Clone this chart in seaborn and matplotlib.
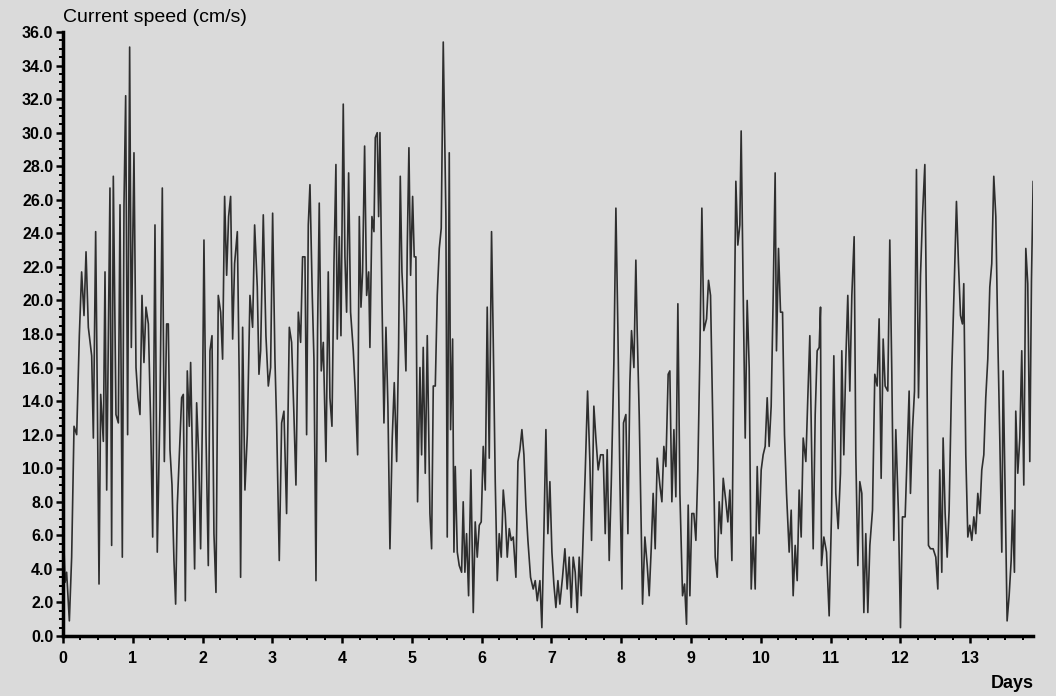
import numpy as np
import pandas as pd
import matplotlib
matplotlib.use("Agg")
import matplotlib.pyplot as plt
from matplotlib.ticker import MultipleLocator, FormatStrFormatter
import seaborn as sns

days = [
    0.000, 0.030, 0.052, 0.091, 0.124, 0.158, 0.196, 0.234, 0.267, 0.301, 0.330, 0.363, 0.411, 0.435, 0.468, 0.492,
    0.516, 0.540, 0.578, 0.602, 0.626, 0.673, 0.697, 0.721, 0.759, 0.793, 0.817, 0.850, 0.874, 0.898, 0.926, 0.955,
    0.979, 1.017, 1.046, 1.074, 1.103, 1.132, 1.160, 1.189, 1.223, 1.256, 1.285, 1.318, 1.351, 1.390, 1.423, 1.452,
    1.485, 1.509, 1.533, 1.562, 1.590, 1.614, 1.638, 1.667, 1.700, 1.724, 1.753, 1.781, 1.810, 1.829, 1.858, 1.886,
    1.915, 1.944, 1.972, 1.996, 2.020, 2.049, 2.082, 2.106, 2.135, 2.163, 2.192, 2.225, 2.259, 2.287, 2.316, 2.345,
    2.373, 2.402, 2.431, 2.459, 2.498, 2.526, 2.545, 2.574, 2.607, 2.641, 2.679, 2.717, 2.746, 2.784, 2.808,
    2.832, 2.870, 2.908, 2.942, 2.975, 3.004, 3.037, 3.061, 3.099, 3.133, 3.166, 3.204, 3.243, 3.276, 3.309, 3.338,
    3.372, 3.405, 3.433, 3.467, 3.491, 3.515, 3.539, 3.572, 3.596, 3.625, 3.648, 3.672, 3.701, 3.730, 3.768, 3.801,
    3.825, 3.854, 3.883, 3.911, 3.930, 3.959, 3.983, 4.016, 4.040, 4.064, 4.093, 4.121, 4.160, 4.188, 4.222, 4.246,
    4.270, 4.293, 4.322, 4.351, 4.380, 4.398, 4.427, 4.456, 4.475, 4.503, 4.523, 4.542, 4.570, 4.599, 4.628, 4.656,
    4.685, 4.718, 4.747, 4.781, 4.809, 4.833, 4.857, 4.885, 4.914, 4.933, 4.957, 4.981, 5.010, 5.033, 5.057, 5.081,
    5.115, 5.139, 5.162, 5.191, 5.220, 5.258, 5.282, 5.306, 5.335, 5.363, 5.392, 5.420, 5.449,
    5.487, 5.506, 5.535, 5.554, 5.583, 5.602, 5.621, 5.650, 5.678, 5.712, 5.735, 5.759, 5.783, 5.812, 5.845, 5.879,
    5.907, 5.936, 5.965, 5.993, 6.022, 6.051, 6.079, 6.108, 6.141, 6.165, 6.194, 6.223, 6.251, 6.280, 6.309, 6.337,
    6.366, 6.395, 6.423, 6.452, 6.490, 6.519, 6.547, 6.576, 6.605, 6.633, 6.662, 6.700, 6.738, 6.767, 6.796, 6.834,
    6.862, 6.891, 6.920, 6.948, 6.977, 7.006, 7.034, 7.063, 7.092, 7.120, 7.158, 7.192, 7.225, 7.254, 7.283, 7.311,
    7.340, 7.369, 7.397, 7.426, 7.455, 7.483, 7.517, 7.550, 7.574, 7.607, 7.636, 7.669, 7.703, 7.741, 7.770, 7.798,
    7.827, 7.856, 7.894, 7.923, 7.951, 7.980, 8.009, 8.032, 8.066, 8.095, 8.123, 8.147, 8.181, 8.209,
    8.228, 8.257, 8.305, 8.338, 8.372, 8.400, 8.429, 8.457, 8.486, 8.515, 8.553, 8.582, 8.610, 8.639, 8.672, 8.696,
    8.725, 8.754, 8.782, 8.811, 8.840, 8.878, 8.907, 8.935, 8.959, 8.983, 9.011, 9.040, 9.069, 9.097, 9.126, 9.155,
    9.183, 9.222, 9.250, 9.279, 9.317, 9.346, 9.375, 9.403, 9.432, 9.461, 9.499, 9.527, 9.556, 9.585, 9.613, 9.642,
    9.670, 9.699, 9.718, 9.747, 9.776, 9.804, 9.833, 9.862, 9.890, 9.919, 9.948, 9.976, 10.005, 10.033, 10.062, 10.091,
    10.119, 10.148, 10.177, 10.205, 10.224, 10.253, 10.282, 10.311, 10.339, 10.368, 10.406, 10.435, 10.463, 10.492,
    10.521, 10.549, 10.578, 10.607, 10.645, 10.673, 10.702, 10.731, 10.750, 10.779, 10.807, 10.836, 10.855,
    10.869, 10.903, 10.941, 10.979, 11.013, 11.046, 11.074, 11.108, 11.141, 11.160, 11.189, 11.218, 11.246, 11.275,
    11.304, 11.337, 11.361, 11.390, 11.418, 11.447, 11.476, 11.504, 11.533, 11.562, 11.600, 11.633, 11.667, 11.695,
    11.724, 11.753, 11.781, 11.819, 11.848, 11.877, 11.905, 11.934, 11.972, 12.001, 12.029, 12.068, 12.096, 12.125,
    12.144, 12.173, 12.202, 12.230, 12.259, 12.288, 12.316, 12.350, 12.374, 12.402, 12.431, 12.469, 12.507, 12.536,
    12.564, 12.593, 12.612, 12.641, 12.670, 12.698, 12.736, 12.775, 12.803, 12.832, 12.861, 12.889, 12.908, 12.937,
    12.966, 12.994, 13.023, 13.052, 13.080, 13.109, 13.138, 13.166, 13.195, 13.223, 13.252, 13.281, 13.309, 13.338,
    13.367, 13.395, 13.424, 13.453, 13.472, 13.501, 13.529, 13.558, 13.587, 13.606, 13.634, 13.653, 13.682, 13.711,
    13.739, 13.768, 13.797, 13.825, 13.854, 13.878, 13.902,
]

speed = [
    7.1, 3.2, 3.8, 0.9, 4.7, 12.5, 12.0, 17.9, 21.7, 19.1, 22.9, 18.4, 16.7, 11.8, 24.1, 14.2,
    3.1, 14.4, 11.6, 21.7, 8.7, 26.7, 5.4, 27.4, 13.2, 12.7, 25.7, 4.7, 25.7, 32.2, 12.0, 35.1,
    17.2, 28.8, 16.0, 14.2, 13.2, 20.3, 16.3, 19.6, 18.6, 12.7, 5.9, 24.5, 5.0, 13.7, 26.7, 10.4,
    18.6, 18.6, 11.1, 9.0, 4.5, 1.9, 7.8, 10.8, 14.2, 14.4, 2.1, 15.8, 12.5, 16.3, 10.1, 4.0,
    13.9, 10.8, 5.2, 12.5, 23.6, 12.0, 4.2, 17.0, 17.9, 6.1, 2.6, 20.3, 19.3, 16.5, 26.2, 21.5,
    25.0, 26.2, 17.7, 22.2, 24.1, 15.1, 3.5, 18.4, 8.7, 12.0, 20.3, 18.4, 24.5, 20.8, 15.6,
    17.0, 25.1, 17.9, 14.9, 16.0, 25.2, 16.5, 12.7, 4.5, 12.7, 13.4, 7.3, 18.4, 17.5, 13.2, 9.0,
    19.3, 17.5, 22.6, 22.6, 12.0, 24.5, 26.9, 20.3, 16.5, 3.3, 18.2, 25.8, 15.8, 17.5, 10.4, 21.7,
    14.2, 12.5, 22.2, 28.1, 17.7, 23.8, 17.9, 31.7, 22.6, 19.3, 27.6, 19.3, 17.0, 14.6, 10.8, 25.0,
    19.6, 21.7, 29.2, 20.3, 21.7, 17.2, 25.0, 24.1, 29.7, 30.0, 25.0, 30.0, 20.3, 12.7, 18.4, 13.7,
    5.2, 11.8, 15.1, 10.4, 17.2, 27.4, 21.7, 19.3, 15.8, 23.1, 29.1, 21.5, 26.2, 22.6, 22.6, 8.0,
    16.0, 10.8, 17.2, 9.7, 17.9, 7.3, 5.2, 14.9, 14.9, 20.3, 23.1, 24.3, 35.4,
    25.0, 5.9, 28.8, 12.3, 17.7, 5.0, 10.1, 5.0, 4.2, 3.8, 8.0, 3.8, 6.1, 2.4, 9.9, 1.4,
    6.8, 4.7, 6.6, 6.8, 11.3, 8.7, 19.6, 10.6, 24.1, 17.7, 9.2, 3.3, 6.1, 4.7, 8.7, 7.3,
    4.7, 6.4, 5.7, 5.9, 3.5, 10.4, 11.1, 12.3, 10.8, 7.8, 5.7, 3.5, 2.8, 3.3, 2.1, 3.3,
    0.5, 6.1, 12.3, 6.1, 9.2, 5.0, 3.1, 1.7, 3.3, 1.9, 3.5, 5.2, 2.8, 4.7, 1.7, 4.7,
    3.8, 1.4, 4.7, 2.4, 6.1, 9.7, 14.6, 10.4, 5.7, 13.7, 11.8, 9.9, 10.8, 10.8, 6.1, 11.1,
    4.5, 9.0, 16.3, 25.5, 18.4, 9.4, 2.8, 12.7, 13.2, 6.1, 15.1, 18.2, 16.0, 22.4,
    18.2, 13.2, 1.9, 5.9, 4.2, 2.4, 5.2, 8.5, 5.2, 10.6, 9.0, 8.0, 11.3, 10.1, 15.6, 15.8,
    8.0, 12.3, 8.3, 19.8, 8.5, 2.4, 3.1, 0.7, 7.8, 2.4, 7.3, 7.3, 5.7, 9.9, 16.7, 25.5,
    18.2, 18.9, 21.2, 20.3, 11.3, 4.7, 3.5, 8.0, 6.1, 9.4, 8.0, 6.8, 8.7, 4.5, 16.0, 27.1,
    23.3, 24.5, 30.1, 20.5, 11.8, 20.0, 16.0, 2.8, 5.9, 2.8, 10.1, 6.1, 9.9, 10.8, 11.3, 14.2,
    11.3, 13.7, 20.3, 27.6, 17.0, 23.1, 19.3, 19.3, 12.0, 8.5, 5.0, 7.5, 2.4, 5.4,
    3.3, 8.7, 5.9, 11.8, 10.4, 14.2, 17.9, 10.4, 5.2, 13.2, 17.0, 17.2, 19.6,
    4.2, 5.9, 5.0, 1.2, 7.3, 16.7, 8.5, 6.4, 9.7, 17.0, 10.8, 16.5, 20.3, 14.6,
    20.3, 23.8, 10.8, 4.2, 9.2, 8.5, 1.4, 6.1, 1.4, 5.4, 7.5, 15.6, 14.9, 18.9,
    9.4, 17.7, 14.9, 14.6, 23.6, 15.6, 5.7, 12.3, 7.3, 0.5, 7.1, 7.1, 10.8, 14.6,
    8.5, 12.3, 14.6, 27.8, 14.2, 21.5, 25.0, 28.1, 19.1, 5.4, 5.2, 5.2, 4.7, 2.8,
    9.9, 3.8, 11.8, 7.3, 4.7, 7.5, 15.8, 21.5, 25.9, 22.2, 19.1, 18.6, 21.0, 10.8,
    5.9, 6.6, 5.7, 7.1, 6.1, 8.5, 7.3, 9.9, 10.8, 14.2, 16.5, 20.8, 22.2, 27.4,
    25.0, 17.9, 11.8, 5.0, 15.8, 8.5, 0.9, 2.4, 4.5, 7.5, 3.8, 13.4, 9.7, 11.8,
    17.0, 9.0, 23.1, 21.0, 10.4, 21.2, 27.1,
]

y_ticks = np.arange(0, 36.1, 2.0)
x_ticks = list(range(0, 14))
y_title = "Current speed (cm/s)"
x_title = "Days"

df = pd.DataFrame({"day": days, "speed": speed})

sns.set_theme(style="ticks")
plt.rcParams["font.family"] = ["Liberation Sans", "DejaVu Sans"]

bg = "#dadada"
fig = plt.figure(figsize=(10.56, 6.96), dpi=100, facecolor=bg)
ax = fig.add_axes([63 / 1056, 60 / 696, (1033 - 63) / 1056, (636 - 32) / 696])
ax.set_facecolor(bg)

sns.lineplot(data=df, x="day", y="speed", ax=ax, color="#2e2e2e", linewidth=1.2,
             estimator=None, sort=False)

ax.set_xlim(0, 13.9)
ax.set_ylim(0, 36)
ax.set_xticks(x_ticks)
ax.set_yticks(y_ticks)
ax.yaxis.set_major_formatter(FormatStrFormatter("%.1f"))
ax.xaxis.set_minor_locator(MultipleLocator(0.25))
ax.yaxis.set_minor_locator(MultipleLocator(0.5))
ax.set_xlabel("")
ax.set_ylabel("")

for s in ["top", "right"]:
    ax.spines[s].set_visible(False)
for s in ["left", "bottom"]:
    ax.spines[s].set_color("black")
    ax.spines[s].set_linewidth(2.5)

ax.tick_params(axis="both", which="major", direction="out", length=5, width=1.8,
               color="black", labelsize=11.5, labelcolor="black", pad=2)
ax.tick_params(axis="x", which="major", pad=6)
ax.tick_params(axis="both", which="minor", direction="out", length=3, width=1.4, color="black")
for lab in ax.get_xticklabels() + ax.get_yticklabels():
    lab.set_fontweight("bold")

fig.text(63 / 1056, 1 - 18 / 696, y_title, fontsize=14, ha="left", va="center", color="black")
fig.text(1012 / 1056, 1 - 684 / 696, x_title, fontsize=13, ha="center", va="center",
         color="black", fontweight="bold")

fig.savefig("out.png", dpi=100, facecolor=bg)
